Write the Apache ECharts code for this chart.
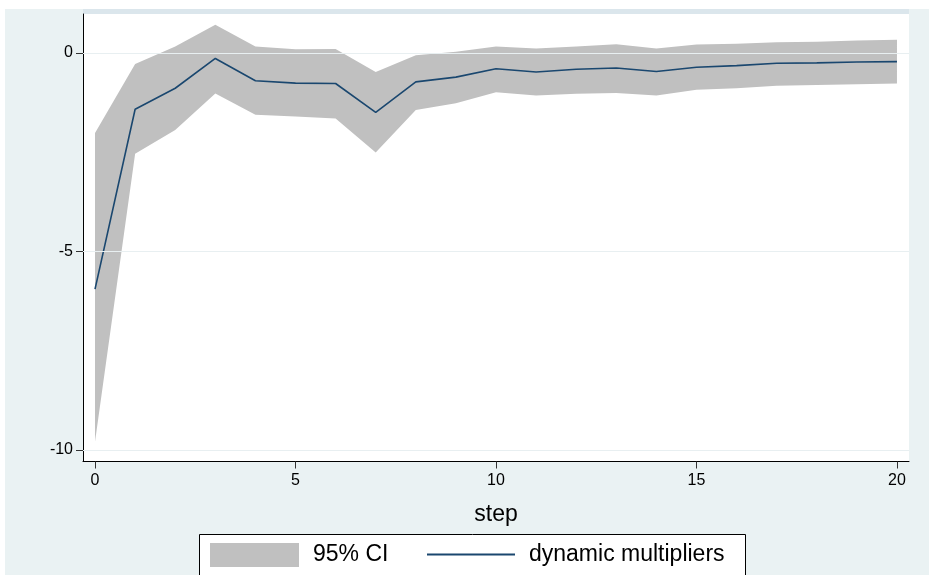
<!DOCTYPE html>
<html>
<head>
<meta charset="utf-8">
<style>
html,body{margin:0;padding:0;background:#ffffff;}
#chart{width:929px;height:575px;}
</style>
<script src="https://cdn.jsdelivr.net/npm/echarts@6/dist/echarts.min.js"></script>
</head>
<body>
<div id="chart"></div>
<script>
const steps = [0,1,2,3,4,5,6,7,8,9,10,11,12,13,14,15,16,17,18,19,20];
const multipliers = [-5.95,-1.42,-0.89,-0.14,-0.70,-0.76,-0.77,-1.50,-0.73,-0.61,-0.40,-0.48,-0.41,-0.38,-0.47,-0.36,-0.32,-0.26,-0.25,-0.23,-0.22];
const ciUpper = [-2.02,-0.28,0.16,0.71,0.16,0.09,0.10,-0.48,-0.06,0.03,0.16,0.11,0.16,0.22,0.11,0.21,0.23,0.27,0.28,0.31,0.33];
const ciLower = [-9.79,-2.54,-1.94,-1.02,-1.56,-1.60,-1.65,-2.51,-1.44,-1.27,-0.99,-1.07,-1.03,-1.01,-1.07,-0.93,-0.89,-0.83,-0.81,-0.79,-0.77];
const xTicks = [0,5,10,15,20];
const yTicks = [-10,-5,0];

const FONT = 'Liberation Sans, Arial, sans-serif';
const chart = echarts.init(document.getElementById('chart'), null, {renderer:'canvas'});

const bandData = steps.map((s,i)=>[s, ciLower[i], ciUpper[i]]);
const lineData = steps.map((s,i)=>[s, multipliers[i]]);

function renderBand(params, api){
  if (params.dataIndex !== 0) return null;
  const pts = [];
  for (let i = 0; i < bandData.length; i++) pts.push(api.coord([bandData[i][0], bandData[i][2]]));
  for (let i = bandData.length - 1; i >= 0; i--) pts.push(api.coord([bandData[i][0], bandData[i][1]]));
  return {type:'polygon', shape:{points:pts}, style:{fill:'#c0c0c0', stroke:null}};
}

chart.setOption({
  animation:false,
  backgroundColor:'#ffffff',
  graphic:[
    {type:'rect', z:-10, silent:true, shape:{x:5,y:9,width:924,height:566}, style:{fill:'#eaf2f3'}},
    {type:'rect', z:-9, silent:true, shape:{x:83,y:9,width:826,height:5}, style:{fill:'#dbe6ec'}},
    {type:'rect', z:-9, silent:true, shape:{x:83,y:14,width:826,height:448}, style:{fill:'#ffffff'}},
    {type:'rect', z:5, silent:true, shape:{x:199.5,y:534.5,width:546,height:60}, style:{fill:'#ffffff', stroke:'#000000', lineWidth:1}}
  ],
  grid:{left:83, right:20, top:14, bottom:113.5, containLabel:false},
  xAxis:{
    type:'value', min:-0.3, max:20.3,
    name:'step', nameLocation:'middle', nameGap:42,
    nameTextStyle:{fontFamily:FONT, fontSize:23, color:'#000'},
    axisLine:{show:true, onZero:false, lineStyle:{color:'#000', width:1}},
    axisTick:{show:true, length:7, customValues:xTicks, lineStyle:{color:'#333'}},
    axisLabel:{show:true, customValues:xTicks, margin:11, fontFamily:FONT, fontSize:16, color:'#000'},
    splitLine:{show:false}
  },
  yAxis:{
    type:'value', min:-10.29, max:0.98,
    axisLine:{show:true, onZero:false, lineStyle:{color:'#000', width:1}},
    axisTick:{show:true, length:7, customValues:yTicks, lineStyle:{color:'#333'}},
    axisLabel:{show:true, customValues:yTicks, margin:10, fontFamily:FONT, fontSize:16, color:'#000'},
    splitLine:{show:false}
  },
  legend:[
    {
      left:205, top:538, itemWidth:89, itemHeight:24, itemGap:20,
      textStyle:{fontFamily:FONT, fontSize:23, color:'#000', padding:[0,0,0,9]},
      data:[{name:'95% CI', icon:'rect', itemStyle:{color:'#c0c0c0', borderWidth:0}}],
      selectedMode:false, z:10
    },
    {
      left:422, top:538, itemWidth:88, itemHeight:24,
      textStyle:{fontFamily:FONT, fontSize:23, color:'#000', padding:[0,0,0,9]},
      data:[{name:'dynamic multipliers', icon:'path://M0,11 L88,11 L88,13 L0,13 Z', itemStyle:{color:'#1a476f', borderWidth:0}}],
      selectedMode:false, z:10
    }
  ],
  series:[
    {
      type:'line', name:'grid', data:[], z:1, silent:true,
      markLine:{silent:true, symbol:['none','none'], label:{show:false},
        lineStyle:{color:'#e8eff1', width:1, type:'solid'},
        data:yTicks.map(v=>({yAxis:v}))}
    },
    {
      type:'custom', name:'95% CI', data:bandData, renderItem:renderBand,
      encode:{x:0, y:[1,2]}, itemStyle:{color:'#c0c0c0'}, z:2, silent:true, clip:true
    },
    {
      type:'line', name:'dynamic multipliers', data:lineData,
      symbol:'none', lineStyle:{color:'#1a476f', width:1.6}, itemStyle:{color:'#1a476f'}, z:3
    }
  ]
});
</script>
</body>
</html>
